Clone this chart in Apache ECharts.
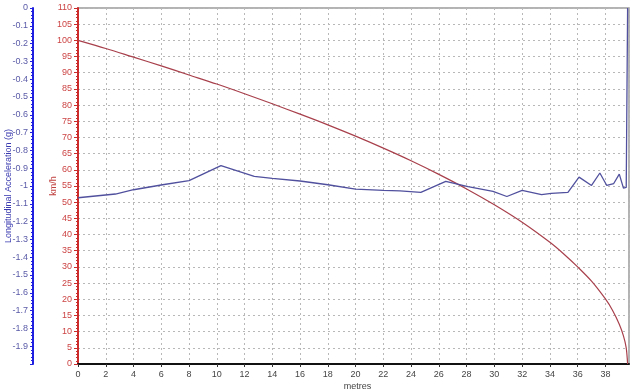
<!DOCTYPE html>
<html>
<head>
<meta charset="utf-8">
<script src="https://cdn.jsdelivr.net/npm/echarts@6/dist/echarts.min.js"></script>
<style>
html,body{margin:0;padding:0;background:#fff;}
#chart{width:640px;height:391px;}
</style>
</head>
<body>
<div id="chart"></div>
<script>
// speed trace (km/h) vs distance (m)
var speedDist = [0, 2, 4, 6, 8, 10, 12, 14, 16, 18, 20, 22, 24, 26, 28, 30, 32, 34, 35, 36, 37, 38, 38.5, 39, 39.3, 39.5, 39.6];
var speedVal = [100, 97.5, 94.8, 92.1, 89.3, 86.5, 83.5, 80.4, 77.2, 73.9, 70.4, 66.7, 62.8, 58.6, 54.1, 49.2, 43.8, 37.6, 34.0, 30.0, 25.6, 20.1, 16.7, 12.3, 8.7, 5.0, 0];

// longitudinal acceleration (g) vs distance (m)
var accDist = [0, 2.7, 4.0, 6.1, 8.0, 10.3, 12.7, 14, 16, 18, 20, 22, 23.2, 24.7, 26.5, 28.1, 29.9, 30.9, 32.0, 33.4, 34.1, 35.3, 36.1, 37.0, 37.6, 38.1, 38.6, 39.0, 39.3, 39.5, 39.6];
var accVal = [-1.066, -1.045, -1.021, -0.993, -0.970, -0.886, -0.946, -0.957, -0.972, -0.993, -1.017, -1.025, -1.027, -1.036, -0.974, -1.004, -1.03, -1.059, -1.025, -1.049, -1.042, -1.036, -0.950, -0.997, -0.927, -0.997, -0.986, -0.933, -1.012, -1.008, 0];

function pairs(xs, ys) {
    var out = [];
    for (var i = 0; i < xs.length; i++) {
        out.push([xs[i], ys[i]]);
    }
    return out;
}

var myChart = echarts.init(document.getElementById('chart'));
var option = {
    animation: false,
    textStyle: { fontFamily: 'Liberation Sans, Arial, sans-serif' },
    grid: {
        left: 78, right: 11, top: 8, bottom: 27,
        containLabel: false,
        outerBoundsMode: 'none',
        show: true, borderColor: '#9a9a9a', borderWidth: 1.5
    },
    xAxis: {
        type: 'value',
        min: 0, max: 39.7, interval: 2,
        name: 'metres',
        nameLocation: 'middle',
        nameGap: 18,
        nameMoveOverlap: false,
        nameTextStyle: { color: '#444', fontSize: 9, padding: [0, 0, 0, 8] },
        axisLine: { onZero: false, lineStyle: { color: '#111', width: 2 } },
        axisTick: { show: true, length: 3, lineStyle: { color: '#333' } },
        axisLabel: { color: '#444', fontSize: 9, margin: 6, showMaxLabel: false },
        splitLine: { show: true, lineStyle: { color: '#b8b8b8', type: [2, 3], width: 1 } }
    },
    yAxis: [{
        type: 'value',
        min: 0, max: 110, interval: 5,
        position: 'left',
        name: 'km/h',
        nameLocation: 'middle',
        nameGap: 20,
        nameMoveOverlap: false,
        nameTextStyle: { color: '#c04040', fontSize: 9 },
        axisLine: { show: true, onZero: false, lineStyle: { color: '#cc2b2b', width: 2 } },
        axisTick: { show: true, length: 4, lineStyle: { color: '#cc2b2b' } },
        minorTick: { show: true, splitNumber: 5, length: 2, lineStyle: { color: '#cc2b2b' } },
        axisLabel: { color: '#cc4444', fontSize: 9, margin: 6 },
        splitLine: { show: true, lineStyle: { color: '#b8b8b8', type: [2, 3], width: 1 } }
    }, {
        type: 'value',
        min: -2, max: 0, interval: 0.1,
        position: 'left',
        offset: 45,
        name: 'Longitudinal Acceleration (g)',
        nameLocation: 'middle',
        nameGap: 20,
        nameMoveOverlap: false,
        nameTextStyle: { color: '#3a3ab0', fontSize: 9 },
        axisLine: { show: true, onZero: false, lineStyle: { color: '#2020e0', width: 2 } },
        axisTick: { show: true, length: 3, lineStyle: { color: '#2020e0' } },
        minorTick: { show: true, splitNumber: 5, length: 2, lineStyle: { color: '#2020e0' } },
        axisLabel: { color: '#5a5aa8', fontSize: 9, margin: 5, showMinLabel: false },
        splitLine: { show: false }
    }],
    series: [{
        type: 'line',
        name: 'speed',
        yAxisIndex: 0,
        data: pairs(speedDist, speedVal),
        smooth: 0.3,
        symbol: 'none',
        lineStyle: { color: '#a8404c', width: 1.2 }
    }, {
        type: 'line',
        name: 'accel',
        yAxisIndex: 1,
        data: pairs(accDist, accVal),
        symbol: 'none',
        lineStyle: { color: '#50509e', width: 1.3 }
    }]
};
myChart.setOption(option);
</script>
</body>
</html>
